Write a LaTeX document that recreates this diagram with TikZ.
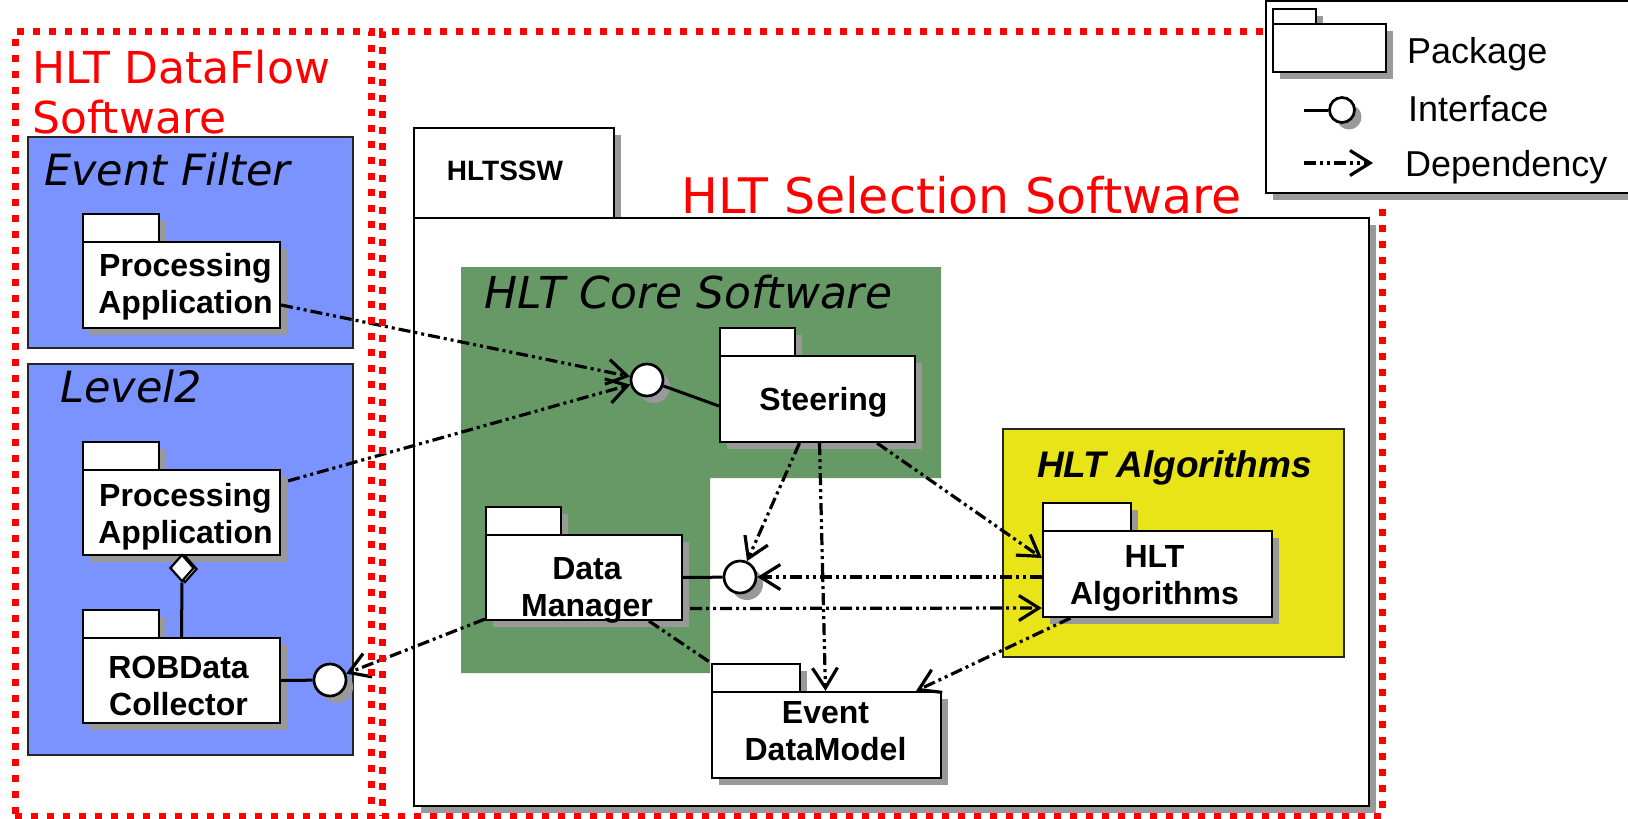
\documentclass[tikz,border=0pt]{standalone}
\usepackage{fontspec}
\setmainfont{Liberation Sans}
\newfontfamily\vsans{DejaVu Sans}
\usetikzlibrary{arrows.meta,shapes.geometric,shadows,fit,calc}

\definecolor{efblue}{RGB}{122,147,255}
\definecolor{coregreen}{RGB}{102,153,102}
\definecolor{algyellow}{RGB}{232,228,24}
\definecolor{shade}{RGB}{153,153,153}

\tikzset{
  pshadow/.style={drop shadow={shadow xshift=7pt, shadow yshift=-7pt, fill=shade, opacity=1}},
  pkgpart/.style={draw=black, line width=2.2pt, fill=white, inner sep=0pt, pshadow},
  pkglabel/.style={font=\bfseries\fontsize{32}{37}\selectfont, align=center, inner sep=0pt},
  iface/.style={circle, draw=black, line width=2.7pt, fill=white, minimum size=32pt, inner sep=0pt, pshadow},
  dep/.style={line width=3.2pt, dash pattern=on 12pt off 4pt on 3pt off 4pt on 3pt off 4pt},
  deparrow/.style={dep, -{Straight Barb[length=20pt,width=25pt]}},
  link/.style={line width=3pt},
  region/.style={inner sep=0pt, draw=black!85, line width=1.5pt},
  zone/.style={draw=red, line width=7pt, dash pattern=on 7pt off 9pt, inner sep=0pt},
  title/.style={font=\vsans\itshape\fontsize{43}{50}\selectfont, anchor=base west, inner sep=0pt},
  redtitle/.style={font=\vsans\fontsize{44}{50}\selectfont, text=red, anchor=base west, inner sep=0pt, align=left},
  legendtext/.style={font=\fontsize{36}{42}\selectfont, anchor=base west, inner sep=0pt},
}

% UML package: name, left, tab top, tab right, body top, body right, body bottom
\newcommand\umlpackage[7]{%
  \node[pkgpart, fit={(#2,#3)(#4,#5)}] (#1tab) {};
  \node[pkgpart, fit={(#2,#5)(#6,#7)}] (#1) {};
}

\begin{document}
\begin{tikzpicture}[x=1pt,y=-1pt]
\useasboundingbox (0,0) rectangle (1628,819);
\fill[white] (0,0) rectangle (1628,819);

% ---------- HLT DataFlow side ----------
\node[region, fill=efblue, fit={(28,137)(353,348)}] (ef) {};
\node[region, fill=efblue, fit={(28,364)(353,755)}] (l2) {};
\node[title] (eftitle) at (44,185) {Event Filter};
\node[title] (l2title) at (60,402) {Level2};

\umlpackage{pa1}{83}{214}{159}{242}{280}{328}
\node[pkglabel] (pa1label) at ($(pa1.center)+(4,2)$) {Processing\\Application};

\umlpackage{pa2}{83}{442}{159}{470}{280}{555}
\node[pkglabel] (pa2label) at ($(pa2.center)+(4,4)$) {Processing\\Application};

\umlpackage{rob}{83}{610}{159}{638}{280}{723}
\node[pkglabel] (roblabel) at ($(rob.center)+(-3,5)$) {ROBData\\Collector};

\node[diamond, draw=black, line width=2.2pt, fill=white, minimum width=24pt,
      minimum height=27pt, inner sep=0pt,
      copy shadow={shadow xshift=3pt, shadow yshift=-1pt}] (agg) at (182,568) {};
\draw[link] (agg.south) -- (rob.north);

\node[iface] (ifr) at (330,680) {};
\draw[link] (rob.east) -- (ifr);

% ---------- HLT Selection Software package ----------
\umlpackage{ssw}{414}{128}{614}{218}{1369}{806}
\node[font=\bfseries\fontsize{28}{32}\selectfont, inner sep=0pt] (sswlabel)
      at ($(sswtab.center)+(-9,-2)$) {HLTSSW};

\fill[coregreen] (461,267) -- (941,267) -- (941,478) -- (710,478)
                 -- (710,673) -- (461,673) -- cycle;
\node[title, font=\vsans\itshape\fontsize{44}{50}\selectfont] (coretitle)
      at (484,308) {HLT Core Software};

\node[region, fill=algyellow, fit={(1003,429)(1344,657)}] (algzone) {};
\node[font=\bfseries\itshape\fontsize{37}{44}\selectfont, anchor=base west,
      inner sep=0pt] (algtitle) at (1037,477) {HLT Algorithms};

\umlpackage{steer}{720}{328}{795}{356}{915}{442}
\node[pkglabel] (steerlabel) at ($(steer.center)+(6,3)$) {Steering};

\umlpackage{dm}{486}{507}{561}{535}{682}{620}
\node[pkglabel] (dmlabel) at ($(dm.center)+(3,13)$) {Data\\Manager};

\umlpackage{edm}{712}{664}{800}{692}{941}{778}
\node[pkglabel] (edmlabel) at ($(edm.center)+(-1,-4)$) {Event\\DataModel};

\umlpackage{hla}{1043}{503}{1131}{531}{1272}{617}
\node[pkglabel] (hlalabel) at ($(hla.center)+(-3,4)$) {HLT\\Algorithms};

\node[iface] (ifs) at (647,380) {};
\node[iface] (ifd) at (740,577) {};
\draw[link] (ifs) -- ($(steer.west)+(0,7)$);
\draw[link] (dm.east) -- (ifd);

% ---------- dependencies ----------
\draw[deparrow] ($(pa1.east)+(0,20)$) -- (ifs);
\draw[deparrow] ($(pa2.north east)+(7,12)$) -- (ifs);
\draw[deparrow] ($(steer.south)+(-18,0)$) -- (ifd);
\draw[deparrow] ($(steer.south)+(2,0)$) -- ($(edm.north)+(-1,0)$);
\draw[deparrow] ($(steer.south east)+(-39,0)$) -- ($(hla.west)+(0,-16)$);
\draw[deparrow] ($(hla.west)+(0,3)$) -- (ifd);
\draw[deparrow] ($(dm.east)+(7,31)$) -- ($(hla.west)+(0,34)$);
\draw[dep] ($(dm.south)+(65,0)$) -- (edmtab.north west);
\draw[deparrow] ($(hla.south)+(-87,0)$) -- ($(edm.north east)+(-26,0)$);
\draw[deparrow] ($(dm.south west)+(0,-2)$) -- (ifr);

% ---------- software zones ----------
\node[zone, fit={(15,31.5)(371,816)}] (dfzone) {};
\node[zone, fit={(382,31.5)(1382,816)}] (sszone) {};
\node[redtitle] (dftitle) at (32,133) {HLT DataFlow\\Software};
\node[redtitle, font=\vsans\fontsize{49}{56}\selectfont] (sstitle)
      at (681,213) {HLT Selection Software};

% ---------- legend ----------
\node[draw=black, line width=2pt, fill=white, inner sep=0pt, pshadow,
      fit={(1266,1)(1650,193)}] (legend) {};
\umlpackage{lgpkg}{1273}{9}{1316}{24}{1386}{72}
\node[legendtext] (lgpkgtext) at (1407,63) {Package};

\coordinate (lgifend) at (1304,110);
\node[iface, minimum size=25pt] (lgif) at (1342,110) {};
\draw[link] (lgifend) -- (lgif);
\node[legendtext] (lgiftext) at (1408,121) {Interface};

\coordinate (lgdepa) at (1304,163);
\coordinate (lgdepb) at (1373,163);
\draw[deparrow] (lgdepa) -- (lgdepb);
\node[legendtext] (lgdeptext) at (1405,176) {Dependency};
\end{tikzpicture}
\end{document}
